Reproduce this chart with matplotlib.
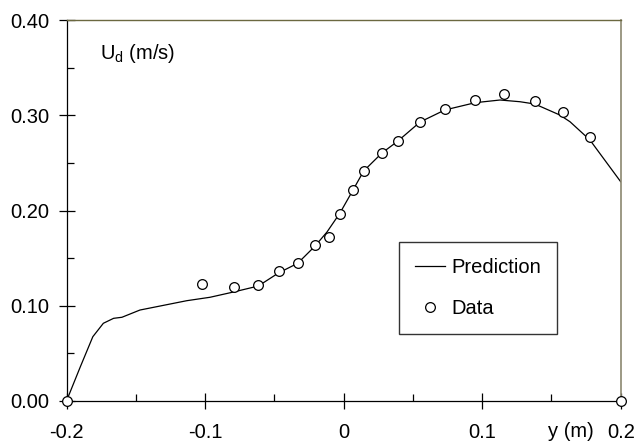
import matplotlib
matplotlib.use("Agg")
import matplotlib.pyplot as plt
from matplotlib.ticker import FixedLocator

plt.rcParams['font.family'] = ['Liberation Sans', 'DejaVu Sans']
plt.rcParams['mathtext.fontset'] = 'custom'
plt.rcParams['mathtext.rm'] = 'Liberation Sans'

# Prediction curve (y position in m, U_d in m/s)
pred_y = [-0.2, -0.190, -0.181, -0.1734, -0.166, -0.160, -0.147, -0.1325, -0.1132,
          -0.0964, -0.0796, -0.0616, -0.047, -0.0331, -0.0206, -0.0120, -0.0026,
          0.0068, 0.0145, 0.0277, 0.039, 0.0552, 0.073, 0.0950, 0.1129, 0.1273,
          0.138, 0.156, 0.1634, 0.1778, 0.2]
pred_u = [0.0, 0.036, 0.0675, 0.0816, 0.0868, 0.0879, 0.0955, 0.0997, 0.1053,
          0.1089, 0.1144, 0.1207, 0.1344, 0.1446, 0.1627, 0.1774, 0.1974,
          0.2215, 0.2415, 0.2604, 0.2727, 0.2929, 0.3055, 0.3132, 0.316, 0.3142,
          0.3118, 0.3003, 0.2932, 0.274, 0.2302]

# Measured data
data_y = [-0.2, -0.102, -0.0791, -0.0616, -0.0468, -0.0331, -0.0206, -0.0108,
          -0.0024, 0.0068, 0.0145, 0.0277, 0.039, 0.0551, 0.073, 0.0951, 0.1161,
          0.1384, 0.1581, 0.178, 0.2]
data_u = [0.0, 0.1228, 0.120, 0.1221, 0.1368, 0.1452, 0.1638, 0.1725,
          0.1963, 0.222, 0.2415, 0.2607, 0.2727, 0.2929, 0.3069, 0.316, 0.322,
          0.3146, 0.3031, 0.2775, 0.0]

xticks = [-0.2, -0.1, 0.0, 0.1, 0.2]
xtick_labels = ['-0.2', '-0.1', '0', '0.1', '0.2']
yticks = [0.0, 0.1, 0.2, 0.3, 0.4]
ytick_labels = ['0.00', '0.10', '0.20', '0.30', '0.40']

fig = plt.figure(figsize=(6.36, 4.43), dpi=100)
ax = fig.add_axes([66.5/636, 1 - 401/443, (620.7-66.5)/636, (401-20)/443])

ax.plot(pred_y, pred_u, color='black', lw=0.9, label='Prediction', zorder=2)
ax.plot(data_y, data_u, linestyle='none', marker='o', ms=7, mfc='white',
        mec='black', mew=0.9, label='Data', clip_on=False, zorder=3)

ax.set_xlim(-0.2, 0.2)
ax.set_ylim(0.0, 0.4)
ax.set_xticks(xticks)
ax.set_xticklabels(xtick_labels)
ax.set_yticks(yticks)
ax.set_yticklabels(ytick_labels)
ax.xaxis.set_minor_locator(FixedLocator([-0.15, -0.05, 0.05, 0.15]))
ax.yaxis.set_minor_locator(FixedLocator([0.05, 0.15, 0.25, 0.35]))

ax.tick_params(which='major', direction='inout', length=11, width=0.9,
               labelsize=14.5, colors='black')
ax.tick_params(axis='x', which='major', pad=10.5)
ax.tick_params(axis='y', which='major', pad=7)
ax.tick_params(which='minor', direction='in', length=5, width=0.9)
ax.tick_params(top=False, right=False, which='both')

for s in ['left', 'bottom']:
    ax.spines[s].set_color('black')
    ax.spines[s].set_linewidth(0.9)
ax.spines['top'].set_color('#6b6840')
ax.spines['right'].set_color('#8b8770')
ax.spines['top'].set_linewidth(1.0)
ax.spines['right'].set_linewidth(1.2)

ax.text(0.0604, 0.913, r'U$_{\mathrm{d}}$ (m/s)', transform=ax.transAxes,
        ha='left', va='center', fontsize=14.5)
ax.text(0.1641, -0.080, 'y (m)', transform=ax.get_xaxis_transform(),
        ha='center', va='center', fontsize=14.5)

leg = ax.legend(loc='upper left', bbox_to_anchor=(0.600, 0.4173), fontsize=14.5,
                frameon=True, fancybox=False, edgecolor='#333333', borderpad=0.8,
                labelspacing=1.1, handlelength=1.5, handletextpad=0.3,
                borderaxespad=0.0)
leg.get_frame().set_linewidth(1.0)
leg.get_frame().set_alpha(1.0)

fig.savefig('out.png', dpi=100)
